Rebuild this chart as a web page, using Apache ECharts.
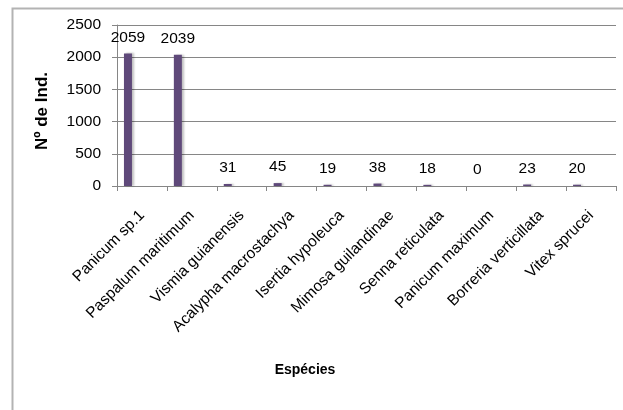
<!DOCTYPE html>
<html>
<head>
<meta charset="utf-8">
<script src="https://cdn.jsdelivr.net/npm/echarts@6/dist/echarts.min.js"></script>
<style>
html,body{margin:0;padding:0;background:#fff;}
#chart{width:623px;height:410px;}
</style>
</head>
<body>
<div id="chart"></div>
<script>
const categories = ["Panicum sp.1","Paspalum maritimum","Vismia guianensis","Acalypha macrostachya","Isertia hypoleuca","Mimosa guilandinae","Senna reticulata","Panicum maximum","Borreria verticillata","Vitex sprucei"];
const values = [2059, 2039, 31, 45, 19, 38, 18, 0, 23, 20];
const yTicks = [0, 500, 1000, 1500, 2000, 2500];
const xTitle = 'Espécies';
const yTitle = 'Nº de Ind.';
const emptySeries = categories.map(() => null);

const FONT = "'Liberation Sans', 'DejaVu Sans', sans-serif";
const chart = echarts.init(document.getElementById('chart'));
chart.setOption({
  animation: false,
  backgroundColor: '#fff',
  graphic: [
    {
      type: 'rect', left: 10, top: 6,
      shape: { x: 0, y: 0, width: 700, height: 500 },
      style: { fill: 'none', stroke: '#b3b3b3', lineWidth: 2 },
      silent: true
    },
    {
      type: 'text', x: 305, y: 370,
      style: { text: xTitle, fontFamily: FONT, fontSize: 14, fontWeight: 'bold', fill: '#000', textAlign: 'center', textVerticalAlign: 'middle' },
      silent: true
    },
    {
      type: 'text', x: 42, y: 111, rotation: Math.PI / 2,
      style: { text: yTitle, fontFamily: FONT, fontSize: 17, fontWeight: 'bold', fill: '#000', textAlign: 'center', textVerticalAlign: 'middle' },
      silent: true
    }
  ],
  grid: { left: 117, top: 25, right: 7, bottom: 224 },
  xAxis: {
    type: 'category',
    data: categories,
    axisLine: { lineStyle: { color: '#868686', width: 1 } },
    axisTick: { show: true, length: 5, lineStyle: { color: '#868686' } },
    axisLabel: { rotate: 45, fontFamily: FONT, fontSize: 15.5, color: '#000', margin: 27, interval: 0 }
  },
  yAxis: {
    type: 'value',
    min: yTicks[0], max: yTicks[yTicks.length - 1], interval: yTicks[1] - yTicks[0],
    axisLine: { show: true, lineStyle: { color: '#868686', width: 1 } },
    axisTick: { show: true, length: 5, lineStyle: { color: '#868686' } },
    splitLine: { lineStyle: { color: '#868686', width: 1 } },
    axisLabel: { fontFamily: FONT, fontSize: 15.5, color: '#000', margin: 16, formatter: v => String(v) }
  },
  series: [
    {
      type: 'bar', data: values, barWidth: 8, barGap: '75%',
      itemStyle: { color: '#5f497a', shadowColor: 'rgba(0,0,0,0.25)', shadowBlur: 2, shadowOffsetX: 2 },
      label: { show: true, position: 'top', distance: 8, fontFamily: FONT, fontSize: 15.5, color: '#000' }
    },
    { type: 'bar', data: emptySeries, barWidth: 8, barGap: '75%' },
    { type: 'bar', data: emptySeries, barWidth: 8, barGap: '75%' }
  ]
});
</script>
</body>
</html>
